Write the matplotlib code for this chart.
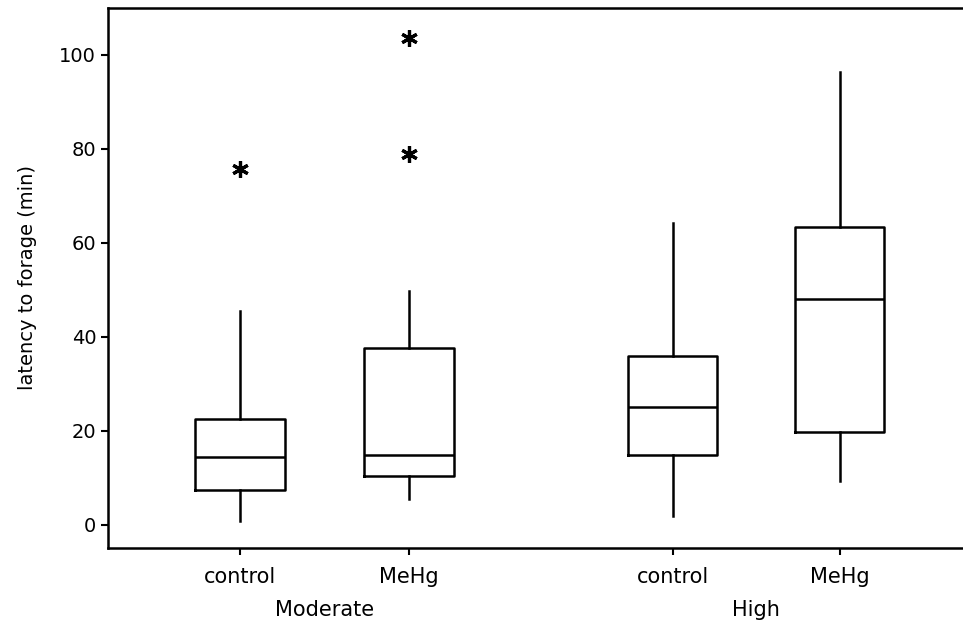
import matplotlib
matplotlib.use("Agg")
import matplotlib.pyplot as plt

groups = ["Moderate", "High"]
treatments = ["control", "MeHg", "control", "MeHg"]
positions = [1.0, 2.0, 3.56, 4.55]

whislo = [0.9, 5.5, 1.9, 9.4]
q1 = [7.4, 10.4, 14.9, 19.8]
med = [14.5, 14.9, 25.1, 48.1]
q3 = [22.5, 37.7, 36.0, 63.4]
whishi = [45.5, 49.8, 64.3, 96.4]
fliers = [[75.7], [78.9, 103.6], [], []]

stats = []
for i in range(4):
    stats.append(dict(whislo=whislo[i], q1=q1[i], med=med[i], q3=q3[i],
                      whishi=whishi[i], fliers=fliers[i], label=treatments[i]))

plt.rcParams['font.family'] = ['DejaVu Sans']
fig = plt.figure(figsize=(9.63, 6.26), dpi=100)
ax = fig.add_axes([108/963, 78/626, 1 - 108/963, 540/626])

lw = 1.8
ax.bxp(stats, positions=positions, widths=0.527, showcaps=False,
       boxprops=dict(color='black', linewidth=lw),
       medianprops=dict(color='black', linewidth=lw),
       whiskerprops=dict(color='black', linewidth=lw),
       flierprops=dict(marker=(6, 2, 0), markersize=12, markeredgecolor='black',
                       markeredgewidth=2.3, linestyle='none'))

ax.set_xlim(0.219, 5.278)
ax.set_ylim(-4.9, 110)
ax.set_yticks([0, 20, 40, 60, 80, 100])
ax.set_xticks(positions)
ax.set_xticklabels(treatments)
ax.tick_params(axis='both', labelsize=14, width=1.5, length=5, color='black')
ax.tick_params(axis='x', labelsize=15, pad=9)
ax.spines['right'].set_visible(False)
for s in ['left', 'bottom', 'top']:
    ax.spines[s].set_linewidth(1.8)
ax.set_ylabel("latency to forage (min)", fontsize=14, labelpad=16)

for g, (a, b) in zip(groups, [(positions[0], positions[1]), (positions[2], positions[3])]):
    ax.text((a + b) / 2, -0.114, g, transform=ax.get_xaxis_transform(),
            ha='center', va='center', fontsize=15)

fig.savefig("out.png", dpi=100)
